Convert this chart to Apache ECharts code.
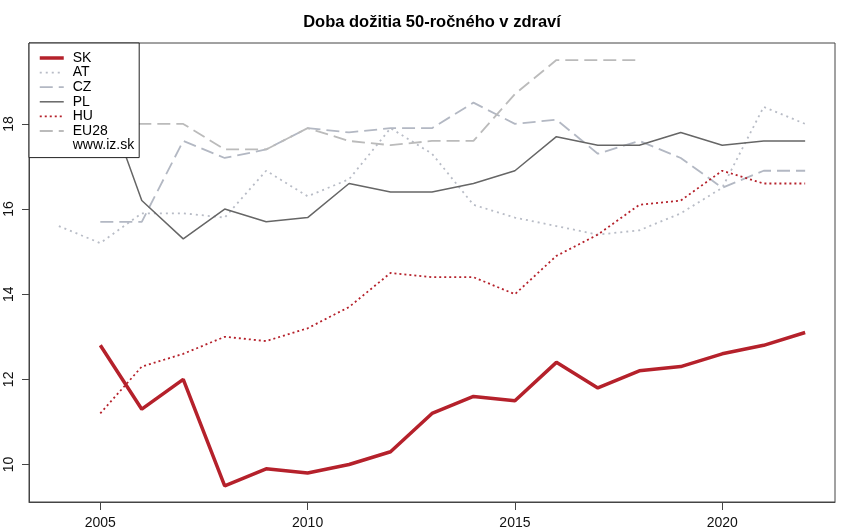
<!DOCTYPE html>
<html>
<head>
<meta charset="utf-8">
<script src="https://cdn.jsdelivr.net/npm/echarts@6/dist/echarts.min.js"></script>
<style>
  html, body { margin: 0; padding: 0; background: #fff; }
  #chart { width: 850px; height: 532px; }
</style>
</head>
<body>
<div id="chart"></div>
<script>
// roky
var years = [2004, 2005, 2006, 2007, 2008, 2009, 2010, 2011, 2012, 2013,
             2014, 2015, 2016, 2017, 2018, 2019, 2020, 2021, 2022];

// hodnoty od 2005 (AT od 2004, EU28 do 2018)
var sk   = [12.8, 11.3, 12.0, 9.5, 9.9, 9.8, 10.0, 10.3, 11.2, 11.6, 11.5, 12.4, 11.8, 12.2, 12.3, 12.6, 12.8, 13.1];
var at   = [15.6, 15.2, 15.9, 15.9, 15.8, 16.9, 16.3, 16.7, 17.9, 17.3, 16.1, 15.8, 15.6, 15.4, 15.5, 15.9, 16.5, 18.4, 18.0];
var cz   = [15.7, 15.7, 17.6, 17.2, 17.4, 17.9, 17.8, 17.9, 17.9, 18.5, 18.0, 18.1, 17.3, 17.6, 17.2, 16.5, 16.9, 16.9];
var pl   = [18.9, 16.2, 15.3, 16.0, 15.7, 15.8, 16.6, 16.4, 16.4, 16.6, 16.9, 17.7, 17.5, 17.5, 17.8, 17.5, 17.6, 17.6];
var hu   = [11.2, 12.3, 12.6, 13.0, 12.9, 13.2, 13.7, 14.5, 14.4, 14.4, 14.0, 14.9, 15.4, 16.1, 16.2, 16.9, 16.6, 16.6];
var eu28 = [18.0, 18.0, 18.0, 17.4, 17.4, 17.9, 17.6, 17.5, 17.6, 17.6, 18.7, 19.5, 19.5, 19.5];

var xTicks = [2005, 2010, 2015, 2020];
var yTicks = [10, 12, 14, 16, 18];

function pairs (startYear, vals) {
    var start = years.indexOf(startYear);
    return vals.map(function (v, i) { return [years[start + i], v]; });
}

var font = '"Liberation Sans", Arial, Helvetica, sans-serif';
var red = '#b5212b';
var none = 'rgba(0,0,0,0)';

var myChart = echarts.init(document.getElementById('chart'), null, { renderer: 'canvas' });

var option = {
    animation: false,
    backgroundColor: '#fff',
    title: {
        text: 'Doba dožitia 50-ročného v zdraví',
        left: 427,
        top: 9,
        textAlign: 'center',
        textStyle: { fontFamily: font, fontSize: 16.5, fontWeight: 'bold', color: '#000' }
    },
    legend: {
        orient: 'vertical',
        left: 29,
        top: 43,
        padding: [8, 5, 5, 9],
        itemWidth: 24,
        itemHeight: 10,
        itemGap: 0.6,
        backgroundColor: '#fff',
        borderColor: '#222',
        borderWidth: 1,
        borderRadius: 0,
        selectedMode: false,
        itemStyle: { opacity: 0 },
        lineStyle: { width: 'inherit' },
        textStyle: { fontFamily: font, fontSize: 14, lineHeight: 14, color: '#000', padding: [0, 0, 0, 4] },
        data: ['SK', 'AT', 'CZ', 'PL', 'HU', 'EU28', 'www.iz.sk']
    },
    grid: {
        left: 29,
        right: 15,
        top: 43,
        bottom: 30,
        show: true,
        borderColor: '#444',
        borderWidth: 1
    },
    xAxis: {
        type: 'value',
        min: 2003.28,
        max: 2022.72,
        axisLine: { show: true, lineStyle: { color: '#444' } },
        axisTick: { show: true, length: 8, customValues: xTicks, lineStyle: { color: '#444' } },
        axisLabel: {
            customValues: xTicks,
            margin: 14,
            formatter: function (v) { return String(v); },
            fontFamily: font, fontSize: 14, color: '#111'
        },
        splitLine: { show: false }
    },
    yAxis: {
        type: 'value',
        min: 9.12,
        max: 19.9,
        axisLine: { show: true, lineStyle: { color: '#444' } },
        axisTick: { show: true, length: 7, customValues: yTicks, lineStyle: { color: '#444' } },
        axisLabel: {
            customValues: yTicks,
            rotate: 90,
            margin: 13,
            formatter: function (v) { return String(v); },
            fontFamily: font, fontSize: 14, color: '#111'
        },
        splitLine: { show: false }
    },
    series: [
        {
            name: 'AT', type: 'line', symbol: 'none', z: 2,
            data: pairs(2004, at),
            lineStyle: { color: '#b8bcc6', width: 1.8, type: [2, 4] },
            itemStyle: { color: none }
        },
        {
            name: 'CZ', type: 'line', symbol: 'none', z: 2,
            data: pairs(2005, cz),
            lineStyle: { color: '#b3b8c3', width: 1.8, type: [13, 6] },
            itemStyle: { color: none }
        },
        {
            name: 'EU28', type: 'line', symbol: 'none', z: 2,
            data: pairs(2005, eu28),
            lineStyle: { color: '#bbbbbb', width: 1.8, type: [13, 6] },
            itemStyle: { color: none }
        },
        {
            name: 'PL', type: 'line', symbol: 'none', z: 3,
            data: pairs(2005, pl),
            lineStyle: { color: '#666666', width: 1.5 },
            itemStyle: { color: none }
        },
        {
            name: 'HU', type: 'line', symbol: 'none', z: 3,
            data: pairs(2005, hu),
            lineStyle: { color: red, width: 1.8, type: [2, 3] },
            itemStyle: { color: none }
        },
        {
            name: 'SK', type: 'line', symbol: 'none', z: 4,
            data: pairs(2005, sk),
            lineStyle: { color: red, width: 3.5 },
            itemStyle: { color: none }
        },
        {
            name: 'www.iz.sk', type: 'line', symbol: 'none',
            data: [],
            lineStyle: { color: none, width: 0 },
            itemStyle: { color: none }
        }
    ]
};

option && myChart.setOption(option);
</script>
</body>
</html>
